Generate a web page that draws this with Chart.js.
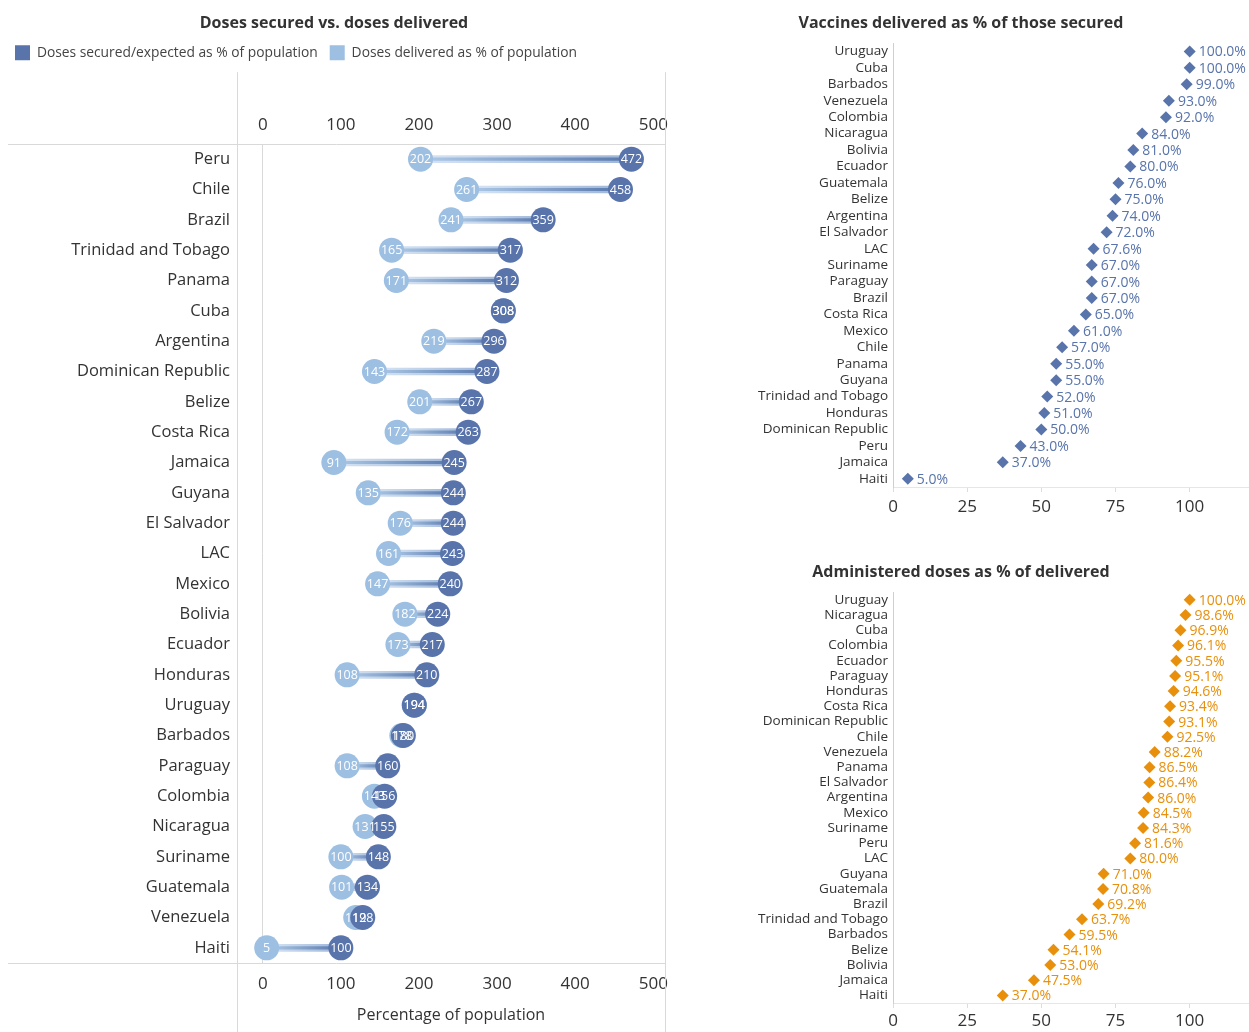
<!DOCTYPE html>
<html>
<head>
<meta charset="utf-8">
<title>COVID-19 vaccine doses in Latin America and the Caribbean</title>
<script src="https://cdn.jsdelivr.net/npm/chart.js@4.4.1/dist/chart.umd.min.js"></script>
<style>
  html, body { margin: 0; padding: 0; background: #ffffff; }
  body { width: 1249px; height: 1032px; position: relative; overflow: hidden; font-family: "Open Sans", sans-serif; }
  .pane { position: absolute; }
  canvas { display: block; }
</style>
</head>
<body>
<div class="pane" style="left:0;top:0;"><canvas id="dosesChart" width="672" height="1032"></canvas></div>
<div class="pane" style="left:673px;top:0;"><canvas id="deliveredChart" width="576" height="530"></canvas></div>
<div class="pane" style="left:673px;top:545px;"><canvas id="administeredChart" width="576" height="487"></canvas></div>

<script>
// ---- Doses secured vs. delivered (% of population) ----
const doseCountries = [
  'Peru', 'Chile', 'Brazil', 'Trinidad and Tobago', 'Panama', 'Cuba', 'Argentina',
  'Dominican Republic', 'Belize', 'Costa Rica', 'Jamaica', 'Guyana', 'El Salvador',
  'LAC', 'Mexico', 'Bolivia', 'Ecuador', 'Honduras', 'Uruguay', 'Barbados',
  'Paraguay', 'Colombia', 'Nicaragua', 'Suriname', 'Guatemala', 'Venezuela', 'Haiti'
];
const securedPct = [
  472, 458, 359, 317, 312, 308, 296,
  287, 267, 263, 245, 244, 244,
  243, 240, 224, 217, 210, 194, 180,
  160, 156, 155, 148, 134, 128, 100
];
const deliveredPct = [
  202, 261, 241, 165, 171, 308, 219,
  143, 201, 172, 91, 135, 176,
  161, 147, 182, 173, 108, 194, 178,
  108, 143, 131, 100, 101, 119, 5
];
const doseTicks = [0, 100, 200, 300, 400, 500];

// ---- Vaccines delivered as % of those secured ----
const deliveredShareCountries = [
  'Uruguay', 'Cuba', 'Barbados', 'Venezuela', 'Colombia', 'Nicaragua', 'Bolivia',
  'Ecuador', 'Guatemala', 'Belize', 'Argentina', 'El Salvador', 'LAC', 'Suriname',
  'Paraguay', 'Brazil', 'Costa Rica', 'Mexico', 'Chile', 'Panama', 'Guyana',
  'Trinidad and Tobago', 'Honduras', 'Dominican Republic', 'Peru', 'Jamaica', 'Haiti'
];
const deliveredShare = [
  100.0, 100.0, 99.0, 93.0, 92.0, 84.0, 81.0,
  80.0, 76.0, 75.0, 74.0, 72.0, 67.6, 67.0,
  67.0, 67.0, 65.0, 61.0, 57.0, 55.0, 55.0,
  52.0, 51.0, 50.0, 43.0, 37.0, 5.0
];

// ---- Administered doses as % of delivered ----
const administeredShareCountries = [
  'Uruguay', 'Nicaragua', 'Cuba', 'Colombia', 'Ecuador', 'Paraguay', 'Honduras',
  'Costa Rica', 'Dominican Republic', 'Chile', 'Venezuela', 'Panama', 'El Salvador',
  'Argentina', 'Mexico', 'Suriname', 'Peru', 'LAC', 'Guyana', 'Guatemala', 'Brazil',
  'Trinidad and Tobago', 'Barbados', 'Belize', 'Bolivia', 'Jamaica', 'Haiti'
];
const administeredShare = [
  100.0, 98.6, 96.9, 96.1, 95.5, 95.1, 94.6,
  93.4, 93.1, 92.5, 88.2, 86.5, 86.4,
  86.0, 84.5, 84.3, 81.6, 80.0, 71.0, 70.8, 69.2,
  63.7, 59.5, 54.1, 53.0, 47.5, 37.0
];
const shareTicks = [0, 25, 50, 75, 100];

const DARK_BLUE = '#5874ab';
const LIGHT_BLUE = '#9dbfe2';
const ORANGE = '#e8900c';
const TEXT = '#333333';
const RULE = '#d9d9d9';
const FONT = '"Open Sans", Lato, sans-serif';

Chart.defaults.font.family = FONT;
Chart.defaults.color = TEXT;

// gradient along each connector, from the delivered end to the secured end
function connectorFill(fromColor, toColor) {
  return (ctx) => {
    const chart = ctx.chart;
    const xs = chart.scales.x;
    if (ctx.type !== 'data' || !xs) return toColor;
    const i = ctx.dataIndex;
    const x0 = xs.getPixelForValue(deliveredPct[i]);
    const x1 = xs.getPixelForValue(securedPct[i]);
    if (!isFinite(x0) || !isFinite(x1) || Math.abs(x1 - x0) < 1) return toColor;
    const g = chart.ctx.createLinearGradient(x0, 0, x1, 0);
    g.addColorStop(0, fromColor);
    g.addColorStop(1, toColor);
    return g;
  };
}

// keep the end tick labels from shrinking the plot width
function noLabelOverhang(s) {
  s.paddingLeft = 0;
  s.paddingRight = 0;
}

// white value labels inside the dots
const dotLabels = {
  id: 'dotLabels',
  afterDatasetsDraw(chart) {
    const ctx = chart.ctx;
    ctx.save();
    ctx.font = '12.5px ' + FONT;
    ctx.fillStyle = '#ffffff';
    ctx.textAlign = 'center';
    ctx.textBaseline = 'middle';
    [3, 2].forEach((di) => {
      const meta = chart.getDatasetMeta(di);
      const vals = chart.data.datasets[di].data;
      meta.data.forEach((pt, i) => ctx.fillText(String(vals[i]), pt.x, pt.y + 0.5));
    });
    ctx.restore();
  }
};

// pane rules around the plot and the label column
const paneFrame = {
  id: 'paneFrame',
  beforeDatasetsDraw(chart) {
    const { ctx, chartArea: a, height } = chart;
    const top = chart.legend ? chart.legend.bottom + 2 : a.top;
    ctx.save();
    ctx.strokeStyle = RULE;
    ctx.lineWidth = 1;
    ctx.beginPath();
    ctx.moveTo(8, Math.round(a.top) + 0.5); ctx.lineTo(a.right, Math.round(a.top) + 0.5);
    ctx.moveTo(8, Math.round(a.bottom) + 0.5); ctx.lineTo(a.right, Math.round(a.bottom) + 0.5);
    ctx.moveTo(Math.round(a.left) + 0.5, top); ctx.lineTo(Math.round(a.left) + 0.5, height);
    ctx.moveTo(Math.round(a.right) + 0.5, top); ctx.lineTo(Math.round(a.right) + 0.5, height);
    ctx.stroke();
    ctx.restore();
  }
};

new Chart(document.getElementById('dosesChart'), {
  type: 'bar',
  data: {
    labels: doseCountries,
    datasets: [
      {
        label: 'range band',
        data: doseCountries.map((c, i) => [deliveredPct[i], securedPct[i]]),
        backgroundColor: connectorFill('rgba(200,219,240,0.75)', 'rgba(146,172,210,0.9)'),
        barThickness: 7,
        grouped: false,
        borderWidth: 0,
        borderSkipped: false,
        order: 5
      },
      {
        label: 'range line',
        data: doseCountries.map((c, i) => [deliveredPct[i], securedPct[i]]),
        backgroundColor: connectorFill('#b0cbe8', '#5878ad'),
        barThickness: 2.5,
        grouped: false,
        borderWidth: 0,
        borderSkipped: false,
        order: 4
      },
      {
        type: 'line',
        label: 'Doses delivered as % of population',
        data: deliveredPct,
        indexAxis: 'y',
        showLine: false,
        pointRadius: 12.5,
        pointHoverRadius: 12.5,
        pointBorderWidth: 0,
        borderWidth: 0,
        backgroundColor: LIGHT_BLUE,
        borderColor: LIGHT_BLUE,
        order: 2
      },
      {
        type: 'line',
        label: 'Doses secured/expected as % of population',
        data: securedPct,
        indexAxis: 'y',
        showLine: false,
        pointRadius: 12.5,
        pointHoverRadius: 12.5,
        pointBorderWidth: 0,
        borderWidth: 0,
        backgroundColor: DARK_BLUE,
        borderColor: DARK_BLUE,
        order: 1
      }
    ]
  },
  options: {
    indexAxis: 'y',
    responsive: false,
    animation: false,
    events: [],
    layout: { autoPadding: false, padding: { left: 3, right: 7, top: 0, bottom: 0 } },
    plugins: {
      tooltip: { enabled: false },
      title: {
        display: true,
        text: 'Doses secured vs. doses delivered',
        color: TEXT,
        font: { family: FONT, size: 16, weight: 'bold' },
        padding: { top: 14, bottom: 0 }
      },
      legend: {
        display: true,
        align: 'start',
        labels: {
          boxWidth: 15,
          boxHeight: 15,
          padding: 12,
          color: '#444',
          font: { family: FONT, size: 13.8 },
          filter: (item) => item.datasetIndex >= 2
        }
      }
    },
    scales: {
      x: {
        type: 'linear',
        position: 'bottom',
        min: -33,
        max: 515,
        afterBuildTicks: (s) => { s.ticks = doseTicks.map((v) => ({ value: v })); },
        afterFit: (s) => { s.height = 69; noLabelOverhang(s); },
        ticks: { font: { family: FONT, size: 17 }, color: TEXT, padding: 11, maxRotation: 0, autoSkip: false },
        grid: {
          drawTicks: false,
          color: (c) => (c.tick && c.tick.value === 0 ? RULE : 'rgba(0,0,0,0)')
        },
        border: { display: false },
        title: {
          display: true,
          text: 'Percentage of population',
          color: TEXT,
          font: { family: FONT, size: 16 },
          padding: { top: 4, bottom: 7 }
        }
      },
      x2: {
        type: 'linear',
        position: 'top',
        min: -33,
        max: 515,
        afterBuildTicks: (s) => { s.ticks = doseTicks.map((v) => ({ value: v })); },
        afterFit: (s) => {
          const c = s.chart;
          const used = (c.titleBlock ? c.titleBlock.height : 0) + (c.legend ? c.legend.height : 0);
          s.height = Math.max(20, 144 - used);
          noLabelOverhang(s);
        },
        ticks: { font: { family: FONT, size: 17 }, color: TEXT, padding: 9, maxRotation: 0, autoSkip: false },
        grid: { display: false, drawTicks: false },
        border: { display: false }
      },
      y: {
        type: 'category',
        offset: true,
        afterFit: (s) => { s.width = 234; },
        ticks: { font: { family: FONT, size: 16.5 }, color: TEXT, padding: 7, autoSkip: false },
        grid: { display: false, drawTicks: false },
        border: { display: false }
      }
    }
  },
  plugins: [paneFrame, dotLabels]
});

// percentage labels to the right of each diamond
function percentLabels(color) {
  return {
    id: 'percentLabels',
    afterDatasetsDraw(chart) {
      const ctx = chart.ctx;
      const meta = chart.getDatasetMeta(0);
      const vals = chart.data.datasets[0].data;
      ctx.save();
      ctx.font = '14px ' + FONT;
      ctx.fillStyle = color;
      ctx.textAlign = 'left';
      ctx.textBaseline = 'middle';
      meta.data.forEach((pt, i) => ctx.fillText(vals[i].toFixed(1) + '%', pt.x + 9, pt.y + 1));
      ctx.restore();
    }
  };
}

function shareChart(canvasId, title, labels, values, color, titlePadding, axisHeight, tickPad) {
  return new Chart(document.getElementById(canvasId), {
    type: 'line',
    data: {
      labels: labels,
      datasets: [{
        label: title,
        data: values,
        indexAxis: 'y',
        showLine: false,
        pointStyle: 'rectRot',
        pointRadius: 6,
        pointHoverRadius: 6,
        pointBorderWidth: 0,
        pointBackgroundColor: color,
        backgroundColor: color,
        borderColor: color
      }]
    },
    options: {
      indexAxis: 'y',
      responsive: false,
      animation: false,
      events: [],
      layout: { autoPadding: false, padding: 0 },
      plugins: {
        legend: { display: false },
        tooltip: { enabled: false },
        title: {
          display: true,
          text: title,
          color: TEXT,
          font: { family: FONT, size: 16, weight: 'bold' },
          padding: titlePadding
        }
      },
      scales: {
        x: {
          type: 'linear',
          min: 0,
          max: 120,
          afterBuildTicks: (s) => { s.ticks = shareTicks.map((v) => ({ value: v })); },
          afterFit: (s) => { s.height = axisHeight; },
          ticks: { font: { family: FONT, size: 17 }, color: TEXT, padding: tickPad, maxRotation: 0, autoSkip: false },
          grid: { drawOnChartArea: false, drawTicks: true, tickLength: 5, color: '#dddddd' },
          border: { display: true, color: '#e6e6e6' }
        },
        y: {
          type: 'category',
          offset: true,
          afterFit: (s) => { s.width = 220; },
          ticks: { font: { family: FONT, size: 13.5 }, color: TEXT, padding: 5, autoSkip: false },
          grid: { display: false, drawTicks: false },
          border: { display: true, color: '#cfcfcf', dash: [1, 2] }
        }
      }
    },
    plugins: [percentLabels(color)]
  });
}

shareChart('deliveredChart', 'Vaccines delivered as % of those secured',
  deliveredShareCountries, deliveredShare, DARK_BLUE, { top: 14, bottom: 10 }, 43, 5);

shareChart('administeredChart', 'Administered doses as % of delivered',
  administeredShareCountries, administeredShare, ORANGE, { top: 18, bottom: 10 }, 29, 3);
</script>
</body>
</html>
